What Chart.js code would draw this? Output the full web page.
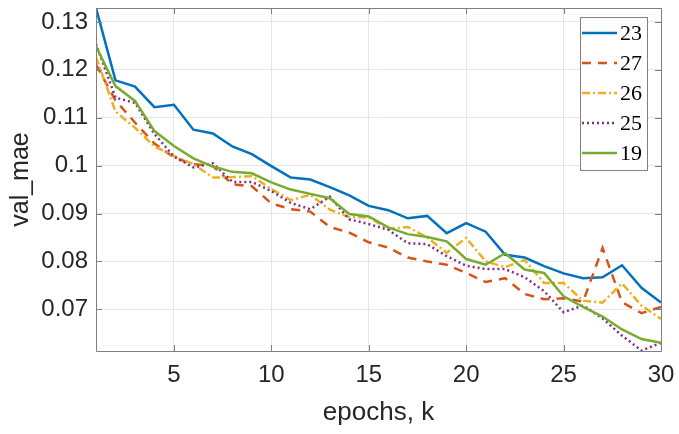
<!DOCTYPE html>
<html lang="en">
<head>
  <meta charset="UTF-8" />
  <title>val_mae vs epochs</title>
  <script src="https://cdn.jsdelivr.net/npm/chart.js"></script>
  <style>
    html, body { margin: 0; padding: 0; background: #fff; }
  </style>
</head>
<body>
  <canvas id="chart" width="679" height="434"></canvas>

  <script>
    // epochs (k) on the x axis
    const epochs = [1, 2, 3, 4, 5, 6, 7, 8, 9, 10, 11, 12, 13, 14, 15,
                    16, 17, 18, 19, 20, 21, 22, 23, 24, 25, 26, 27, 28, 29, 30];

    // val_mae per run
    const run23 = [0.1329, 0.1178, 0.1165, 0.1122, 0.1127, 0.1075, 0.1067, 0.1040, 0.1024, 0.0999,
                   0.0975, 0.0971, 0.0955, 0.0938, 0.0916, 0.0907, 0.0890, 0.0895, 0.0859, 0.0880,
                   0.0862, 0.0814, 0.0808, 0.0790, 0.0775, 0.0765, 0.0767, 0.0792, 0.0745, 0.0714];
    const run27 = [0.1211, 0.1136, 0.1090, 0.1046, 0.1017, 0.1003, 0.0999, 0.0961, 0.0957, 0.0921,
                   0.0909, 0.0904, 0.0872, 0.0860, 0.0840, 0.0829, 0.0808, 0.0800, 0.0793, 0.0776,
                   0.0757, 0.0765, 0.0732, 0.0721, 0.0723, 0.0716, 0.0828, 0.0715, 0.0692, 0.0705];
    const run26 = [0.1227, 0.1113, 0.1079, 0.1040, 0.1020, 0.1003, 0.0975, 0.0976, 0.0978, 0.0951,
                   0.0928, 0.0939, 0.0908, 0.0892, 0.0892, 0.0868, 0.0872, 0.0850, 0.0818, 0.0849,
                   0.0800, 0.0788, 0.0803, 0.0755, 0.0755, 0.0718, 0.0714, 0.0754, 0.0708, 0.0680];
    const run25 = [0.1254, 0.1142, 0.1131, 0.1066, 0.1019, 0.0996, 0.1005, 0.0966, 0.0966, 0.0947,
                   0.0922, 0.0909, 0.0935, 0.0888, 0.0878, 0.0866, 0.0838, 0.0836, 0.0811, 0.0791,
                   0.0784, 0.0784, 0.0767, 0.0738, 0.0694, 0.0708, 0.0681, 0.0645, 0.0614, 0.0630];
    const run19 = [0.1249, 0.1166, 0.1135, 0.1072, 0.1041, 0.1015, 0.0998, 0.0987, 0.0984, 0.0965,
                   0.0950, 0.0941, 0.0932, 0.0899, 0.0894, 0.0871, 0.0857, 0.0851, 0.0842, 0.0805,
                   0.0793, 0.0817, 0.0783, 0.0776, 0.0727, 0.0705, 0.0685, 0.0658, 0.0638, 0.0630];

    const xTicks = [5, 10, 15, 20, 25, 30];
    const yTicks = [0.07, 0.08, 0.09, 0.10, 0.11, 0.12, 0.13];

    const axisColor = '#262626';
    const frameColor = '#7f7f7f';
    const sans = "'Liberation Sans', Arial, sans-serif";

    const toPoints = vals => epochs.map((e, i) => ({ x: e, y: vals[i] }));

    // MATLAB-like box around the axes with inward ticks on all sides
    const axesBox = {
      id: 'axesBox',
      afterDraw(chart) {
        const { ctx, chartArea: a, scales } = chart;
        const tl = 6;
        ctx.save();
        ctx.strokeStyle = frameColor;
        ctx.lineWidth = 1;
        ctx.beginPath();
        ctx.rect(Math.round(a.left) + 0.5, Math.round(a.top) + 0.5,
                 Math.round(a.right - a.left), Math.round(a.bottom - a.top));
        xTicks.forEach(v => {
          const px = Math.round(scales.x.getPixelForValue(v)) + 0.5;
          ctx.moveTo(px, a.bottom); ctx.lineTo(px, a.bottom - tl);
          ctx.moveTo(px, a.top); ctx.lineTo(px, a.top + tl);
        });
        yTicks.forEach(v => {
          const py = Math.round(scales.y.getPixelForValue(v)) + 0.5;
          ctx.moveTo(a.left, py); ctx.lineTo(a.left + tl, py);
          ctx.moveTo(a.right, py); ctx.lineTo(a.right - tl, py);
        });
        ctx.stroke();
        ctx.restore();
      }
    };

    // boxed legend, top right, serif labels
    const boxLegend = {
      id: 'boxLegend',
      afterDraw(chart) {
        const ctx = chart.ctx;
        const x0 = 580, y0 = 17, w = 67, h = 153;
        ctx.save();
        ctx.fillStyle = '#fff';
        ctx.fillRect(x0, y0, w, h);
        ctx.strokeStyle = frameColor;
        ctx.lineWidth = 1;
        ctx.strokeRect(x0 + 0.5, y0 + 0.5, w, h);
        ctx.font = "22px 'Liberation Serif', 'DejaVu Serif', serif";
        ctx.textBaseline = 'middle';
        ctx.textAlign = 'left';
        chart.data.datasets.forEach((ds, i) => {
          const cy = y0 + 16 + i * 30;
          ctx.strokeStyle = ds.borderColor;
          ctx.lineWidth = ds.borderWidth;
          ctx.setLineDash(ds.borderDash || []);
          ctx.beginPath();
          ctx.moveTo(x0 + 2, cy);
          ctx.lineTo(x0 + 37, cy);
          ctx.stroke();
          ctx.setLineDash([]);
          ctx.fillStyle = '#000';
          ctx.fillText(ds.label, x0 + 40, cy + 1);
        });
        ctx.restore();
      }
    };

    new Chart(document.getElementById('chart'), {
      type: 'line',
      data: {
        datasets: [
          { label: '23', data: toPoints(run23), borderColor: '#0072BD', borderWidth: 2.5, order: 4 },
          { label: '27', data: toPoints(run27), borderColor: '#D95319', borderWidth: 2.5, borderDash: [9, 7], order: 3 },
          { label: '26', data: toPoints(run26), borderColor: '#EDB120', borderWidth: 2.5, borderDash: [8, 3, 2, 3], order: 2 },
          { label: '25', data: toPoints(run25), borderColor: '#7E2F8E', borderWidth: 2.5, borderDash: [2, 3], order: 1 },
          { label: '19', data: toPoints(run19), borderColor: '#77AC30', borderWidth: 2.5, order: 0 }
        ]
      },
      options: {
        responsive: false,
        animation: false,
        devicePixelRatio: 1,
        layout: { padding: { top: 8, right: 18, left: 0, bottom: 0 } },
        elements: {
          point: { radius: 0 },
          line: { tension: 0, fill: false }
        },
        plugins: {
          legend: { display: false },
          tooltip: { enabled: false }
        },
        scales: {
          x: {
            type: 'linear',
            min: 1,
            max: 30,
            afterBuildTicks: s => { s.ticks = xTicks.map(v => ({ value: v })); },
            afterFit: s => { s.height = 83; s.paddingLeft = 0; s.paddingRight = 0; },
            grid: { color: '#e6e6e6', drawTicks: false },
            border: { display: false },
            ticks: {
              color: axisColor,
              font: { family: sans, size: 24 },
              padding: 10,
              maxRotation: 0,
              autoSkip: false
            },
            title: {
              display: true,
              text: 'epochs, k',
              color: axisColor,
              font: { family: sans, size: 26 },
              padding: { top: 0, bottom: 6 }
            }
          },
          y: {
            min: 0.0613,
            max: 0.1329,
            afterBuildTicks: s => { s.ticks = yTicks.map(v => ({ value: v })); },
            afterFit: s => { s.width = 96; s.paddingTop = 0; s.paddingBottom = 0; },
            grid: { color: '#e6e6e6', drawTicks: false },
            border: { display: false },
            ticks: {
              color: axisColor,
              font: { family: sans, size: 24 },
              padding: 8,
              callback: v => String(+v.toFixed(2))
            },
            title: {
              display: true,
              text: 'val_mae',
              color: axisColor,
              font: { family: sans, size: 25 },
              padding: { top: 6, bottom: 0 }
            }
          }
        }
      },
      plugins: [axesBox, boxLegend]
    });
  </script>
</body>
</html>
